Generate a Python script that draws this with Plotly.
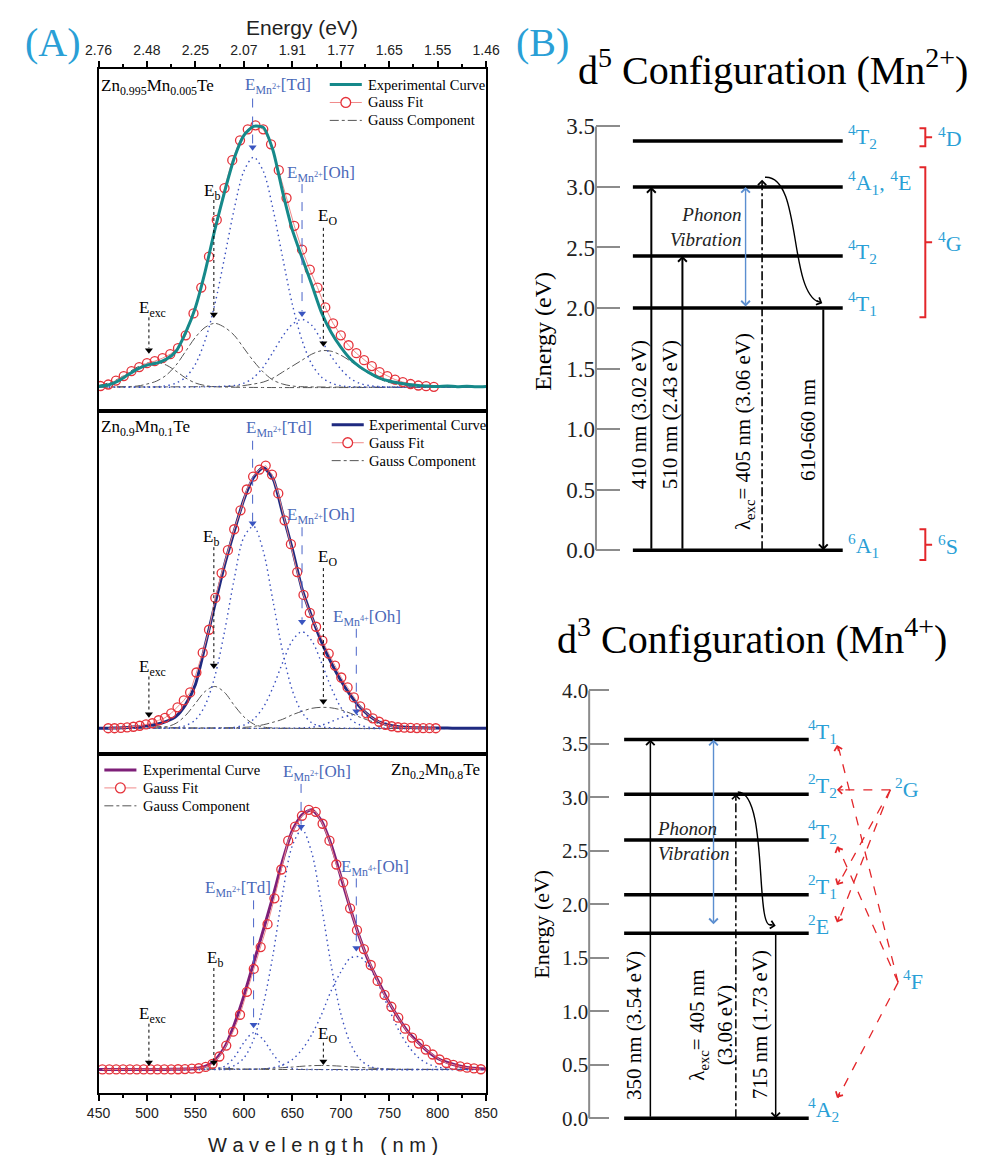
import math
import plotly.graph_objects as go

W, H = 984, 1155
SERIF = "Liberation Serif"
SANS = "Liberation Sans"
BLUE_LBL = "#4a68b8"
CYAN = "#2a9fd6"
RED = "#e3262a"
GRAY = "#555555"
COMP_BLUE = "#3a50bf"
FIT_RED = "#e5323a"
FIT_LINE = "#f08a8a"

# ======================= (A) data =======================
wl_ticks = [450, 500, 550, 600, 650, 700, 750, 800, 850]
energy_ticktext = ["2.76", "2.48", "2.25", "2.07", "1.91", "1.77", "1.65", "1.55", "1.46"]

exp_wl = list(range(450, 851, 10))
exp_p1 = [0.5, 2, 6, 12, 18, 22, 24, 28, 36, 55,
          80, 116, 158, 196, 230, 253, 262, 261, 238, 196,
          158, 130, 103, 75, 55, 40, 28, 20, 14, 9,
          6, 4, 2.5, 1.5, 1, 0.5, 1, 0.3, 0.8, 0.2, 0.6]
exp_p2 = [0, 0, 0.3, 0.8, 1.5, 2.5, 4, 7, 12, 24,
          44, 83, 124, 164, 198, 230, 252, 262, 251, 216,
          180, 140, 112, 87, 66, 48, 33, 21, 12, 6,
          3, 1.5, 0.8, 0.5, 0.3, 0.2, 0.2, 0, 0, 0, 0]
exp_p3 = [0, 0, 0, 0, 0, 0, 0, 0, 0.2, 0.4,
          1, 3, 9, 22, 45, 74, 107, 140, 174, 210,
          240, 256, 261, 250, 226, 194, 161, 131, 106, 86,
          67, 51, 37, 27, 18, 11, 7, 4, 2, 1, 0.5]

fit_wl_p1 = [452 + 8 * i for i in range(44)]
fit_p1 = [1, 2.5, 6.5, 11, 16, 20, 24, 26, 29, 33,
          39, 52, 74, 100, 131, 168, 200, 228, 248, 259,
          263, 259, 244, 218, 190, 162, 138, 118, 100, 80,
          64, 52, 42, 34, 27, 21, 15, 11, 7.5, 5,
          3, 1.5, 0.8, 0.2]
fit_wl_p2 = [round(460 + 6.5 * i, 1) for i in range(53)]
fit_p2 = [0, 0, 0.3, 0.8, 1.5, 2.5, 3.8, 5, 8, 10.5,
          15, 21, 28, 36, 56, 76, 99, 131, 156, 179,
          200, 219, 240, 253, 260, 264, 255, 236, 209, 185,
          157, 134, 116, 102, 88, 75, 63, 51, 41, 31,
          22, 15, 10, 6.5, 3.5, 2, 1, 0.6, 0.4, 0.2,
          0.1, 0.1, 0]
fit_wl_p3 = [round(454 + 7.1 * i, 1) for i in range(56)]
fit_p3 = [0, 0, 0, 0, 0, 0, 0, 0, 0, 0,
          0, 0.2, 0.4, 0.8, 1.2, 2.5, 5.5, 13, 24, 38,
          55, 78, 101, 123, 146, 172, 201, 230, 244, 255,
          261, 259, 247, 230, 206, 188, 162, 140, 121, 105,
          89, 75, 63, 52, 41, 32, 26, 20, 15, 10,
          6.5, 4.5, 3, 1.8, 1, 0.2]

# Gauss components (wavelength nm, intensity)
p1_exc_wl = [450, 460, 470, 480, 490, 500, 510, 520, 530, 540, 550, 560, 570, 850]
p1_exc = [1.5, 4, 8, 14, 20, 24, 25, 22, 16, 9, 4, 1.5, 0.3, 0]
p1_b_wl = [450, 490, 500, 510, 520, 530, 540, 550, 560, 570, 580, 590, 600, 610, 620, 630, 640, 650, 660, 850]
p1_b = [0, 1, 3, 6, 12, 22, 36, 50, 60, 64, 60, 52, 39, 26, 15, 7, 3, 1, 0.3, 0]
p1_o_wl = [450, 590, 600, 610, 620, 630, 640, 650, 660, 670, 680, 690, 700, 710, 720, 730, 740, 750, 760, 770, 780, 850]
p1_o = [0, 0.8, 1.5, 3, 5, 9, 15, 21, 27, 33, 36.5, 36, 32, 26, 19, 13, 8, 4.5, 2.5, 1, 0.4, 0]
p1_td_wl = [450, 510, 520, 530, 540, 550, 560, 570, 580, 590, 600, 610, 620, 630, 640, 650, 660, 670, 680, 690, 700, 710, 850]
p1_td = [0, 0.3, 1.3, 4, 10, 23, 47, 83, 130, 179, 217, 231, 217, 179, 130, 83, 47, 23, 10, 4, 1.3, 0.3, 0]
p1_oh_wl = [450, 590, 600, 610, 620, 630, 640, 650, 660, 670, 680, 690, 700, 710, 720, 730, 740, 850]
p1_oh = [0, 1.5, 4, 9.5, 20, 35, 51, 63, 68, 62, 47, 31, 18, 8.5, 3.5, 1.3, 0.4, 0]

p2_exc_wl = [450, 480, 490, 500, 510, 520, 530, 850]
p2_exc = [0, 0.5, 1.2, 2, 2, 1.2, 0.5, 0]
p2_b_wl = [450, 510, 520, 530, 540, 550, 560, 570, 580, 590, 600, 610, 620, 630, 850]
p2_b = [0, 0.4, 1.4, 5, 13, 25, 37, 42, 36, 23, 11.5, 4.2, 1.2, 0.3, 0]
p2_o_wl = [450, 600, 610, 620, 630, 640, 650, 660, 670, 680, 690, 700, 710, 720, 730, 740, 750, 760, 770, 780, 850]
p2_o = [0, 0.9, 1.8, 3.5, 6, 9, 13.5, 17, 20, 21, 20.5, 18.5, 15, 11, 7.5, 4.5, 2.6, 1.3, 0.6, 0.2, 0]
p2_td_wl = [450, 530, 540, 550, 560, 570, 580, 590, 600, 610, 620, 630, 640, 650, 660, 670, 680, 690, 850]
p2_td = [0, 0.7, 2.7, 8.5, 23, 52, 97, 150, 192, 203, 178, 128, 77, 38, 16, 5.5, 1.6, 0.4, 0]
p2_oh_wl = [450, 580, 590, 600, 610, 620, 630, 640, 650, 660, 670, 680, 690, 700, 710, 720, 730, 740, 850]
p2_oh = [0, 0.2, 0.9, 3.2, 9, 21, 41, 66, 88, 97, 88, 66, 41, 21, 9, 3.2, 0.9, 0.2, 0]
p2_mn4_wl = [450, 660, 670, 680, 690, 700, 710, 720, 730, 740, 750, 760, 770, 780, 850]
p2_mn4 = [0, 0.3, 1, 3, 6.5, 10.5, 13.3, 13.6, 11.3, 7.5, 4, 1.6, 0.5, 0.1, 0]

p3_b_wl = [450, 520, 530, 540, 550, 560, 570, 580, 590, 600, 610, 620, 850]
p3_b = [0, 0.1, 0.2, 0.4, 0.8, 1.3, 1.5, 1.2, 0.7, 0.3, 0.1, 0, 0]
p3_o_wl = [450, 590, 600, 620, 640, 650, 660, 670, 680, 690, 700, 710, 720, 740, 760, 780, 850]
p3_o = [0, 0.1, 0.2, 0.8, 1.8, 2.4, 3.2, 3.8, 4, 3.8, 3.3, 2.6, 2, 0.9, 0.3, 0.1, 0]
p3_td_wl = [450, 560, 570, 580, 590, 600, 610, 620, 630, 640, 650, 660, 850]
p3_td = [0, 0.1, 0.6, 3.2, 12, 27, 37, 30, 15.5, 4.6, 0.8, 0.1, 0]
p3_oh_wl = [450, 570, 580, 590, 600, 610, 620, 630, 640, 650, 660, 670, 680, 690, 700, 710, 720, 730, 740, 750, 850]
p3_oh = [0, 0.3, 1, 3.9, 11.5, 30, 65, 115, 177, 225, 241, 218, 165, 105, 56, 26, 10, 3.1, 0.8, 0.2, 0]
p3_mn4_wl = [450, 610, 620, 630, 640, 650, 660, 670, 680, 690, 700, 710, 720, 730, 740, 750, 760, 770, 780, 790, 800, 810, 820, 830, 850]
p3_mn4 = [0, 0.2, 0.6, 1.8, 4.6, 10, 20, 35, 55, 79, 98, 112, 113, 102, 83, 60, 39, 23, 12, 5.6, 2.4, 0.9, 0.3, 0.1, 0]

sample_names = ["Zn<sub>0.995</sub>Mn<sub>0.005</sub>Te", "Zn<sub>0.9</sub>Mn<sub>0.1</sub>Te", "Zn<sub>0.2</sub>Mn<sub>0.8</sub>Te"]
legend_names = ["Experimental Curve", "Gauss Fit", "Gauss Component"]

# ======================= (B) data =======================
d5_levels = [0.0, 2.0, 2.43, 3.0, 3.38]
d5_terms = ["<sup>6</sup>A<sub>1</sub>", "<sup>4</sup>T<sub>1</sub>", "<sup>4</sup>T<sub>2</sub>",
            "<sup>4</sup>A<sub>1</sub>, <sup>4</sup>E", "<sup>4</sup>T<sub>2</sub>"]
d5_free_ion = ["<sup>4</sup>D", "<sup>4</sup>G", "<sup>6</sup>S"]
d5_free_ion_span = [(3.336, 3.484), (1.923, 3.163), (-0.082, 0.173)]
d5_exc_labels = ["410 nm (3.02 eV)", "510 nm (2.43 eV)"]
d5_exc_top = [3.0, 2.43]
d5_pump_label = "λ<sub>exc</sub>= 405 nm (3.06 eV)"
d5_pump_top = 3.06
d5_emis_label = "610-660 nm"
d5_emis_from = 2.0
d5_phonon = (2.0, 3.0)

d3_levels = [0.0, 1.73, 2.09, 2.60, 3.03, 3.54]
d3_terms = ["<sup>4</sup>A<sub>2</sub>", "<sup>2</sup>E", "<sup>2</sup>T<sub>1</sub>",
            "<sup>4</sup>T<sub>2</sub>", "<sup>2</sup>T<sub>2</sub>", "<sup>4</sup>T<sub>1</sub>"]
d3_exc_label = "350 nm (3.54 eV)"
d3_exc_top = 3.54
d3_pump_label = "λ<sub>exc</sub>= 405 nm<br>(3.06 eV)"
d3_pump_top = 3.03
d3_emis_label = "715 nm (1.73 eV)"
d3_emis_from = 1.73
d3_phonon = (1.80, 3.54)
d3_parent_terms = ["<sup>2</sup>G", "<sup>4</sup>F"]
d3_parent_E = [3.07, 1.27]
d3_parent_children = [[4, 2, 1], [5, 3, 0]]      # indices into d3_terms
d3_child_target_E = {4: 3.07, 2: 2.18, 1: 1.83, 5: 3.49, 3: 2.54, 0: 0.19}

# ======================= layout geometry =======================
XA_DOM = [87 / W, 486 / W]
PANEL_PY = [(63, 407), (407, 752), (752, 1093)]
PANEL_YR = [(-24, 320), (-26, 319), (-24, 317)]

D5_XDOM = [599 / W, 1.0]
D5_XR = [0, 385]
D5_YR = [-0.12, 3.62]
D5_YDOM = [1 - 561.6 / H, 1 - 106.4 / H]
D3_XDOM = [592 / W, 1.0]
D3_XR = [0, 392]
D3_YR = [-0.15, 4.05]
D3_YDOM = [1 - 1134.1 / H, 1 - 682.6 / H]

fig = go.Figure()
annotations = []
shapes = []

# ------------------ (A) panels ------------------
panels = [
    dict(exp=exp_p1, fit_wl=fit_wl_p1, fit=fit_p1, color="#16898a", exp_top=True,
         legend_px=(325, 362, 79),
         comps=[(p1_exc_wl, p1_exc, "g"), (p1_b_wl, p1_b, "g"), (p1_o_wl, p1_o, "g"),
                (p1_td_wl, p1_td, "b"), (p1_oh_wl, p1_oh, "b")]),
    dict(exp=exp_p2, fit_wl=fit_wl_p2, fit=fit_p2, color="#1f2a80", exp_top=False,
         legend_px=(327, 363, 421),
         comps=[(p2_exc_wl, p2_exc, "g"), (p2_b_wl, p2_b, "g"), (p2_o_wl, p2_o, "g"),
                (p2_td_wl, p2_td, "b"), (p2_oh_wl, p2_oh, "b"), (p2_mn4_wl, p2_mn4, "b")]),
    dict(exp=exp_p3, fit_wl=fit_wl_p3, fit=fit_p3, color="#7e1f78", exp_top=False,
         legend_px=(93, 131, 768),
         comps=[(p3_b_wl, p3_b, "g"), (p3_o_wl, p3_o, "g"),
                (p3_td_wl, p3_td, "b"), (p3_oh_wl, p3_oh, "b"), (p3_mn4_wl, p3_mn4, "b")]),
]

for k, p in enumerate(panels):
    xa = "x" if k == 0 else f"x{k + 1}"
    ya = "y" if k == 0 else f"y{k + 1}"
    for wl, val, kind in p["comps"]:
        if kind == "g":
            line = dict(color=GRAY, width=1, dash="dashdot", shape="spline", smoothing=0.9)
            nm = legend_names[2]
        else:
            line = dict(color=COMP_BLUE, width=1.4, dash="1.5px,3.5px", shape="spline", smoothing=0.9)
            nm = "Gauss Component"
        fig.add_trace(go.Scatter(x=wl, y=val, mode="lines", xaxis=xa, yaxis=ya, hoverinfo="skip",
                                 line=line, name=nm, showlegend=False))
    exp_tr = go.Scatter(x=exp_wl, y=p["exp"], mode="lines", xaxis=xa, yaxis=ya, showlegend=False,
                        line=dict(color=p["color"], width=3, shape="spline", smoothing=0.6),
                        name=legend_names[0])
    fit_tr = go.Scatter(x=p["fit_wl"], y=p["fit"], mode="lines+markers", xaxis=xa, yaxis=ya,
                        showlegend=False, line=dict(color=FIT_LINE, width=1),
                        marker=dict(symbol="circle-open", size=9, color=FIT_RED, line=dict(width=1.3)),
                        name=legend_names[1])
    if p["exp_top"]:
        fig.add_trace(fit_tr)
        fig.add_trace(exp_tr)
    else:
        fig.add_trace(exp_tr)
        fig.add_trace(fit_tr)

    # hand-placed legend block (line samples + labels)
    lx0, tx, ly = p["legend_px"]
    lx1 = lx0 + 33
    rows = [ly, ly + 18, ly + 36]
    shapes.append(dict(type="line", xref="paper", yref="paper", x0=lx0 / W, x1=lx1 / W,
                       y0=1 - rows[0] / H, y1=1 - rows[0] / H, line=dict(color=p["color"], width=3)))
    shapes.append(dict(type="line", xref="paper", yref="paper", x0=lx0 / W, x1=lx1 / W,
                       y0=1 - rows[1] / H, y1=1 - rows[1] / H, line=dict(color=FIT_LINE, width=1)))
    cx = (lx0 + lx1) / 2
    shapes.append(dict(type="circle", xref="paper", yref="paper", x0=(cx - 5) / W, x1=(cx + 5) / W,
                       y0=1 - (rows[1] + 5) / H, y1=1 - (rows[1] - 5) / H,
                       line=dict(color=FIT_RED, width=1.3), fillcolor="white"))
    shapes.append(dict(type="line", xref="paper", yref="paper", x0=lx0 / W, x1=lx1 / W,
                       y0=1 - rows[2] / H, y1=1 - rows[2] / H, line=dict(color=GRAY, width=1, dash="dashdot")))
    for r, nm in zip(rows, legend_names):
        annotations.append(dict(xref="paper", yref="paper", x=tx / W, y=1 - r / H, text=nm,
                                showarrow=False, xanchor="left", yanchor="middle",
                                font=dict(family=SERIF, size=14.5, color="black")))

# labels with arrows: (text, color, text_x, text_y, xanchor, arrow_x, line_from, tip)
TD = "E<sub>Mn<sup>2+</sup></sub>[Td]"
OH = "E<sub>Mn<sup>2+</sup></sub>[Oh]"
OH4 = "E<sub>Mn<sup>4+</sup></sub>[Oh]"
panel_labels = [
    [("E<sub>exc</sub>", "k", 506, 78, "center", 502, 70, 34),
     ("E<sub>b</sub>", "k", 567, 196, "center", 569, 188, 70),
     (TD, "b", 599, 303, "left", 609, 290, 238),
     (OH, "b", 642, 214, "left", 660, 204, 71),
     ("E<sub>O</sub>", "k", 686, 171, "center", 682, 160, 41)],
    [("E<sub>exc</sub>", "k", 506, 61, "center", 502, 52, 11),
     ("E<sub>b</sub>", "k", 566, 191, "center", 569, 182, 60),
     (TD, "b", 600, 301, "left", 609, 289, 203),
     (OH, "b", 642, 213, "left", 660, 202, 104),
     ("E<sub>O</sub>", "k", 686, 171, "center", 682, 161, 24),
     (OH4, "b", 690, 111, "left", 716, 100, 14)],
    [(OH, "b", 638, 298, "left", 659, 287, 241),
     (OH4, "b", 698, 203, "left", 716, 192, 119),
     (TD, "b", 558, 181, "left", 610, 170, 42),
     ("E<sub>b</sub>", "k", 570, 111, "center", 569, 102, 4),
     ("E<sub>exc</sub>", "k", 506, 55, "center", 502, 46, 4),
     ("E<sub>O</sub>", "k", 686, 35, "center", 682, 27, 5)],
]
for k, labels in enumerate(panel_labels):
    xa = "x" if k == 0 else f"x{k + 1}"
    ya = "y" if k == 0 else f"y{k + 1}"
    hx, hy, hc = [], [], []
    for text, c, tx, ty, anc, axx, y0, tip in labels:
        col = "black" if c == "k" else BLUE_LBL
        annotations.append(dict(xref=xa, yref=ya, x=tx, y=ty, text=text, showarrow=False,
                                xanchor=anc, yanchor="middle",
                                font=dict(family=SERIF, size=17, color=col)))
        shapes.append(dict(type="line", xref=xa, yref=ya, x0=axx, x1=axx, y0=y0, y1=tip + 5,
                           line=dict(color=col if c == "k" else "#4a64c8", width=1,
                                     dash="dot" if c == "k" else "dash")))
        hx.append(axx)
        hy.append(tip + 3)
        hc.append("black" if c == "k" else "#3a55c0")
    fig.add_trace(go.Scatter(x=hx, y=hy, mode="markers", xaxis=xa, yaxis=ya, showlegend=False,
                             hoverinfo="skip", cliponaxis=False,
                             marker=dict(symbol="triangle-down", size=7, color=hc, line=dict(width=0))))

# sample names
annotations.append(dict(xref="x", yref="y", x=451, y=302, text=sample_names[0], showarrow=False,
                        xanchor="left", font=dict(family=SERIF, size=17, color="black")))
annotations.append(dict(xref="x2", yref="y2", x=451, y=302, text=sample_names[1], showarrow=False,
                        xanchor="left", font=dict(family=SERIF, size=17, color="black")))
annotations.append(dict(xref="x3", yref="y3", x=846, y=300, text=sample_names[2], showarrow=False,
                        xanchor="right", font=dict(family=SERIF, size=17, color="black")))

# ------------------ (B) diagrams ------------------
def level_trace(levels, xr, xa, ya):
    xs, ys = [], []
    for e in levels:
        xs += [xr[0], xr[1], None]
        ys += [e, e, None]
    return go.Scatter(x=xs, y=ys, mode="lines", xaxis=xa, yaxis=ya, showlegend=False,
                      hoverinfo="skip", line=dict(color="black", width=3.5))


def arrow(xa, ya, x0, y0, x1, y1, color="black", width=2, side="end", size=0.85, head=4):
    return dict(xref=xa, yref=ya, axref=xa, ayref=ya, x=x1, y=y1, ax=x0, ay=y0, text="",
                showarrow=True, arrowhead=head, startarrowhead=head, arrowsize=size,
                startarrowsize=size, arrowwidth=width, arrowcolor=color, arrowside=side)


def head_only(xa, ya, tx, ty, sx, sy, sxp, syp, color, width, size, head=4, tail=8):
    dx = (sx - tx) * sxp
    dy = -(sy - ty) * syp
    L = math.hypot(dx, dy)
    return dict(xref=xa, yref=ya, x=tx, y=ty, ax=dx / L * tail, ay=dy / L * tail, text="",
                showarrow=True, arrowhead=head, arrowsize=size, arrowwidth=width, arrowcolor=color)


def vlabel(xa, ya, x, y, text, size=21):
    return dict(xref=xa, yref=ya, x=x, y=y, text=text, textangle=-90, showarrow=False,
                xanchor="center", yanchor="middle", font=dict(family=SERIF, size=size, color="black"))


d5_ypx = (D5_YDOM[1] - D5_YDOM[0]) * H / (D5_YR[1] - D5_YR[0])
d3_ypx = (D3_YDOM[1] - D3_YDOM[0]) * H / (D3_YR[1] - D3_YR[0])

# ---- d5 ----
fig.add_trace(level_trace(d5_levels, (38, 254), "x4", "y4"))
for e, t in zip(d5_levels, d5_terms):
    annotations.append(dict(xref="x4", yref="y4", x=257, y=e + 0.04, text=t, showarrow=False,
                            xanchor="left", yanchor="middle", font=dict(family=SERIF, size=22, color=CYAN)))
for t, (lo, hi) in zip(d5_free_ion, d5_free_ion_span):
    mid = (lo + hi) / 2
    bx = 339
    shapes.append(dict(type="path", xref="x4", yref="y4",
                       path=f"M {bx - 6},{hi} L {bx},{hi} L {bx},{lo} L {bx - 6},{lo} M {bx},{mid} L {bx + 7},{mid}",
                       line=dict(color=RED, width=2)))
    annotations.append(dict(xref="x4", yref="y4", x=bx + 11, y=mid, text=t, showarrow=False,
                            xanchor="left", yanchor="middle", font=dict(family=SERIF, size=22, color=CYAN)))
for xpos, lx, lab, top in zip([57, 89], [44, 76], d5_exc_labels, d5_exc_top):
    annotations.append(arrow("x4", "y4", xpos, 0.0, xpos, top))
    annotations.append(vlabel("x4", "y4", lx, 1.12, lab))
annotations.append(arrow("x4", "y4", 154, d5_phonon[0], 154, d5_phonon[1], color="#5b8ed0",
                         width=1.4, side="end+start", size=1.2))
annotations.append(dict(xref="x4", yref="y4", x=151, y=2.67, text="<i>Phonon</i><br><i>Vibration</i>",
                        showarrow=False, xanchor="right", align="right", yanchor="middle",
                        font=dict(family=SERIF, size=19, color="#222")))
shapes.append(dict(type="line", xref="x4", yref="y4", x0=171, x1=171, y0=0, y1=d5_pump_top - 0.05,
                   line=dict(color="black", width=1.6, dash="dashdot")))
annotations.append(head_only("x4", "y4", 171, d5_pump_top, 171, 0, 1, d5_ypx, "black", 1.6, 1.0))
annotations.append(vlabel("x4", "y4", 153, 0.98, d5_pump_label))
shapes.append(dict(type="path", xref="x4", yref="y4",
                   path=f"M 174,{d5_pump_top + 0.02} C 212,3.1 198,2.15 229,2.05",
                   line=dict(color="black", width=1.4)))
annotations.append(head_only("x4", "y4", 233, 2.04, 222, 2.08, 1, d5_ypx, "black", 1.4, 1.1))
annotations.append(arrow("x4", "y4", 234, d5_emis_from, 234, 0.0))
annotations.append(vlabel("x4", "y4", 219, 0.99, d5_emis_label))

# ---- d3 ----
fig.add_trace(level_trace(d3_levels, (36, 226), "x5", "y5"))
for e, t in zip(d3_levels, d3_terms):
    annotations.append(dict(xref="x5", yref="y5", x=223, y=e + 0.08, text=t, showarrow=False,
                            xanchor="left", yanchor="middle", font=dict(family=SERIF, size=22, color=CYAN)))
parent_x = [310, 318]
for pt, pe, px_, kids in zip(d3_parent_terms, d3_parent_E, parent_x, d3_parent_children):
    annotations.append(dict(xref="x5", yref="y5", x=px_ + 3, y=pe + 0.02, text=pt, showarrow=False,
                            xanchor="left", yanchor="middle", font=dict(family=SERIF, size=22, color=CYAN)))
    for kid in kids:
        te = d3_child_target_E[kid]
        shapes.append(dict(type="line", xref="x5", yref="y5", x0=px_, y0=pe, x1=256, y1=te,
                           line=dict(color=RED, width=1.3, dash="dash")))
        annotations.append(head_only("x5", "y5", 255, te, px_, pe, 1, d3_ypx, RED, 1.3, 1.2))
annotations.append(arrow("x5", "y5", 63, 0.0, 63, d3_exc_top, width=1.5, size=1.1))
annotations.append(vlabel("x5", "y5", 46, 0.87, d3_exc_label))
annotations.append(arrow("x5", "y5", 128, d3_phonon[0], 128, d3_phonon[1], color="#5b8ed0",
                         width=1.4, side="end+start", size=1.2))
annotations.append(dict(xref="x5", yref="y5", x=68, y=2.59, text="<i>Phonon</i><br><i>Vibration</i>",
                        showarrow=False, xanchor="left", align="left", yanchor="middle",
                        font=dict(family=SERIF, size=19, color="#222")))
shapes.append(dict(type="line", xref="x5", yref="y5", x0=151, x1=151, y0=0, y1=d3_pump_top - 0.05,
                   line=dict(color="black", width=1.5, dash="dashdot")))
annotations.append(head_only("x5", "y5", 151, d3_pump_top, 151, 0, 1, d3_ypx, "black", 1.5, 1.0))
annotations.append(vlabel("x5", "y5", 125, 0.87, d3_pump_label))
shapes.append(dict(type="path", xref="x5", yref="y5",
                   path=f"M 153,{d3_pump_top + 0.02} C 185,3.05 170,1.72 188,1.81",
                   line=dict(color="black", width=1.4)))
annotations.append(head_only("x5", "y5", 192, 1.80, 182, 1.82, 1, d3_ypx, "black", 1.4, 1.1))
annotations.append(arrow("x5", "y5", 192, d3_emis_from, 192, 0.0, width=1.5, size=1.1))
annotations.append(vlabel("x5", "y5", 176, 0.87, d3_emis_label))

# axis lines for the level diagrams
shapes.append(dict(type="line", xref="paper", yref="y4", x0=D5_XDOM[0], x1=D5_XDOM[0], y0=0, y1=3.5,
                   line=dict(color="#8c8c8c", width=2)))
shapes.append(dict(type="line", xref="paper", yref="y5", x0=D3_XDOM[0], x1=D3_XDOM[0], y0=0, y1=4.0,
                   line=dict(color="#8c8c8c", width=2)))

# ------------------ titles & panel letters ------------------
def paper_text(pxx, pyy, text, size, family, color="black", angle=0, anchor="center"):
    return dict(xref="paper", yref="paper", x=pxx / W, y=1 - pyy / H, text=text, showarrow=False,
                xanchor=anchor, yanchor="middle", textangle=angle,
                font=dict(family=family, size=size, color=color))

annotations += [
    paper_text(40, 37, "(A)", 40, SERIF, CYAN),
    paper_text(544, 37, "(B)", 40, SERIF, CYAN),
    paper_text(296, 22, "Energy (eV)", 21, SANS, "#222"),
    paper_text(318, 1145, "W a v e l e n g t h \u00a0\u00a0( n m )", 20, SANS, "#222"),
    paper_text(781, 62, "d<sup>5</sup> Configuration (Mn<sup>2+</sup>)", 40, SERIF),
    paper_text(760, 634, "d<sup>3</sup> Configuration (Mn<sup>4+</sup>)", 40, SERIF),
    paper_text(545, 327, "Energy (eV)", 24, SERIF, angle=-90),
    paper_text(543, 923, "Energy (eV)", 22, SERIF, angle=-90),
]

# ------------------ axes ------------------
def ydom(k):
    top, bot = PANEL_PY[k]
    return [1 - bot / H, 1 - top / H]

frame = dict(showline=True, mirror=True, linecolor="black", linewidth=2, showgrid=False, zeroline=False)
minor = dict(tick0=450, dtick=25, ticks="outside", ticklen=3, tickwidth=2, tickcolor="black")

layout = dict(
    width=W, height=H, margin=dict(l=0, r=0, t=0, b=0), autosize=False,
    paper_bgcolor="white", plot_bgcolor="white", showlegend=False,
    xaxis=dict(domain=XA_DOM, range=[450, 850], anchor="y", side="top", ticks="outside", ticklen=6,
               tickwidth=2, tickcolor="black", tickmode="array", tickvals=wl_ticks, ticktext=energy_ticktext,
               tickfont=dict(family=SANS, size=14, color="#222"), minor=minor, **frame),
    yaxis=dict(domain=ydom(0), range=list(PANEL_YR[0]), anchor="x", showticklabels=False, ticks="", **frame),
    xaxis2=dict(domain=XA_DOM, range=[450, 850], anchor="y2", showticklabels=False, ticks="", **frame),
    yaxis2=dict(domain=ydom(1), range=list(PANEL_YR[1]), anchor="x2", showticklabels=False, ticks="", **frame),
    xaxis3=dict(domain=XA_DOM, range=[450, 850], anchor="y3", side="bottom", ticks="outside", ticklen=6,
                tickwidth=2, tickcolor="black", tickmode="array", tickvals=wl_ticks,
                tickfont=dict(family=SANS, size=14, color="#222"), minor=minor, **frame),
    yaxis3=dict(domain=ydom(2), range=list(PANEL_YR[2]), anchor="x3", showticklabels=False, ticks="", **frame),
    xaxis4=dict(domain=D5_XDOM, range=D5_XR, anchor="y4", visible=False),
    yaxis4=dict(domain=D5_YDOM, range=D5_YR, anchor="x4", tickmode="array",
                tickvals=[0, 0.5, 1, 1.5, 2, 2.5, 3, 3.5],
                ticktext=["0.0", "0.5", "1.0", "1.5", "2.0", "2.5", "3.0", "3.5"],
                ticks="inside", ticklen=24, tickwidth=2, tickcolor="#8c8c8c", showline=False,
                showgrid=False, zeroline=False, tickfont=dict(family=SERIF, size=23, color="#222")),
    xaxis5=dict(domain=D3_XDOM, range=D3_XR, anchor="y5", visible=False),
    yaxis5=dict(domain=D3_YDOM, range=D3_YR, anchor="x5", tickmode="array",
                tickvals=[0, 0.5, 1, 1.5, 2, 2.5, 3, 3.5, 4],
                ticktext=["0.0", "0.5", "1.0", "1.5", "2.0", "2.5", "3.0", "3.5", "4.0"],
                ticks="inside", ticklen=20, tickwidth=2, tickcolor="#8c8c8c", showline=False,
                showgrid=False, zeroline=False, tickfont=dict(family=SERIF, size=21, color="#222")),
    annotations=annotations,
    shapes=shapes,
)
fig.update_layout(**layout)
fig.write_html("out.html")
